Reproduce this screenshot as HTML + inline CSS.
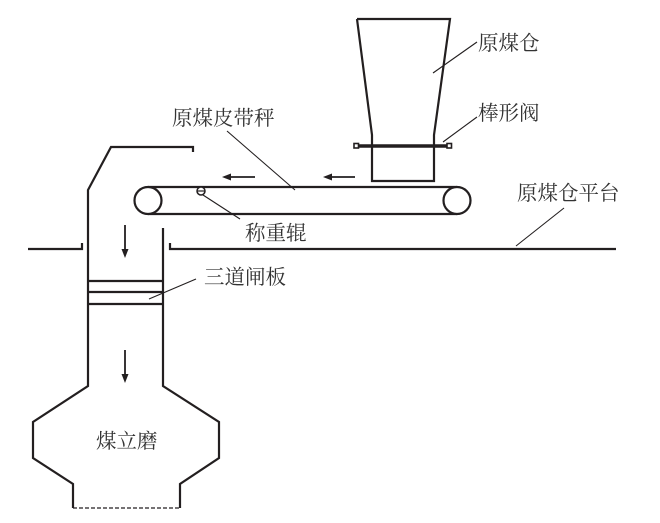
<!DOCTYPE html>
<html><head><meta charset="utf-8"><style>
html,body{margin:0;padding:0;background:#fff;}
svg{display:block;}
text{font-family:"Liberation Serif","Noto Serif CJK SC","Noto Sans CJK SC",serif;font-size:20.5px;fill:#333;}
</style></head><body>
<svg width="660" height="523" viewBox="0 0 660 523" xmlns="http://www.w3.org/2000/svg">
<g fill="none" stroke="#231f20" stroke-width="2.2" stroke-linejoin="miter">
  <!-- hopper -->
  <polyline points="357,19 450,19 434,135 434,181 372,181 372,135 357,19"/>
  <!-- chute top -->
  <polyline points="193,152 193,147 111,147 88,190 88,386 33,422 33,458 73,484 73,508"/>
  <polyline points="163,228 163,386 219,422 219,458 180,484 180,508"/>
  <!-- floors -->
  <polyline points="28,249 82,249 82,243"/>
  <polyline points="170,243 170,249 616,249"/>
  <!-- belt -->
  <line x1="148" y1="187" x2="457" y2="187"/>
  <line x1="148" y1="214" x2="457" y2="214"/>
  <circle cx="148" cy="200.5" r="13.5" fill="#fff"/>
  <circle cx="457" cy="200.5" r="13.5" fill="#fff"/>
  <!-- gates -->
  <line x1="88" y1="281" x2="163" y2="281"/>
  <line x1="88" y1="292" x2="163" y2="292"/>
  <line x1="88" y1="304" x2="163" y2="304"/>
</g>
<!-- bar valve -->
<line x1="355" y1="146" x2="451" y2="146" stroke="#231f20" stroke-width="3.6"/>
<rect x="354" y="143.5" width="4.5" height="4.5" fill="#fff" stroke="#231f20" stroke-width="1.6"/>
<rect x="447" y="143.5" width="4.5" height="4.5" fill="#fff" stroke="#231f20" stroke-width="1.6"/>
<!-- weighing roller -->
<circle cx="201" cy="191" r="4" fill="#fff" stroke="#231f20" stroke-width="1.5"/>
<line x1="197" y1="191" x2="205" y2="191" stroke="#231f20" stroke-width="1.2"/>
<!-- dashed bottom -->
<line x1="73" y1="508" x2="180" y2="508" stroke="#231f20" stroke-width="1.3" stroke-dasharray="4,2"/>
<!-- leaders -->
<g stroke="#231f20" stroke-width="1.1">
  <line x1="477" y1="42" x2="433" y2="73"/>
  <line x1="477" y1="117" x2="443" y2="142"/>
  <line x1="227" y1="131" x2="295" y2="190"/>
  <line x1="203" y1="195" x2="240" y2="219"/>
  <line x1="564" y1="208" x2="516" y2="246"/>
  <line x1="196" y1="279" x2="149" y2="299"/>
</g>
<!-- arrows -->
<g stroke="#231f20" stroke-width="1.8" fill="#231f20">
  <line x1="229" y1="177" x2="255" y2="177"/>
  <polygon points="222,177 231,173.5 231,180.5" stroke="none"/>
  <line x1="330" y1="177" x2="355" y2="177"/>
  <polygon points="323,177 332,173.5 332,180.5" stroke="none"/>
  <line x1="125" y1="225" x2="125" y2="251"/>
  <polygon points="125,258 121.5,249 128.5,249" stroke="none"/>
  <line x1="125" y1="350" x2="125" y2="376"/>
  <polygon points="125,383 121.5,374 128.5,374" stroke="none"/>
</g>
<!-- labels -->
<text x="478" y="50">原煤仓</text>
<text x="478" y="120">棒形阀</text>
<text x="172" y="125">原煤皮带秤</text>
<text x="245" y="240">称重辊</text>
<text x="517" y="200">原煤仓平台</text>
<text x="204" y="284">三道闸板</text>
<text x="96" y="448">煤立磨</text>
</svg>
</body></html>
